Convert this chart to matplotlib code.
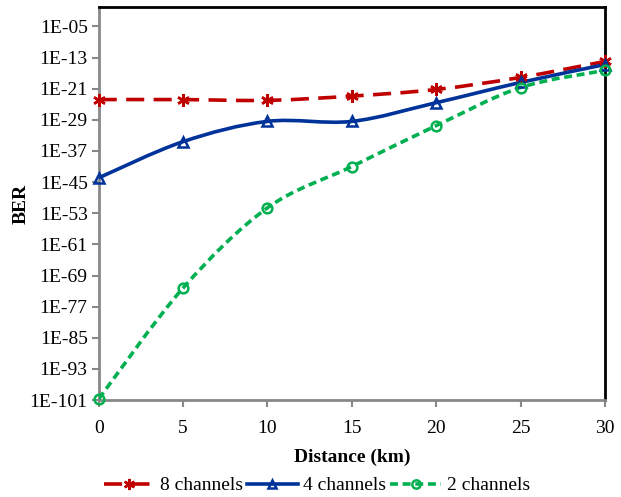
import numpy as np
import matplotlib
matplotlib.use("Agg")
import matplotlib.pyplot as plt
from matplotlib.path import Path
from matplotlib.patches import PathPatch
from matplotlib.lines import Line2D
from matplotlib.ticker import FixedLocator, FuncFormatter

plt.rcParams['font.family'] = ['Liberation Serif', 'DejaVu Serif']

distance = [0, 5, 10, 15, 20, 25, 30]
# BER exponents (BER = 10**exp)
ber8_exp = [-23.8, -23.8, -24.0, -22.9, -21.2, -18.1, -14.0]
ber4_exp = [-43.9, -34.6, -29.4, -29.4, -24.6, -19.4, -14.8]
ber2_exp = [-100.7, -72.2, -51.6, -41.0, -30.5, -20.7, -16.3]
labels = ["8 channels", "4 channels", "2 channels"]
yticks_exp = list(range(-101, 0, 8))


def smooth_path(xs, ys, t=0.5):
    # Excel-like smoothed line: Catmull-Rom spline as cubic Bezier segments (log space)
    xs = np.asarray(xs, float)
    ys = np.asarray(ys, float)
    n = len(xs)
    verts = [(xs[0], ys[0])]
    codes = [Path.MOVETO]
    for i in range(n - 1):
        p0 = i - 1 if i > 0 else i
        p3 = i + 2 if i + 2 < n else i + 1
        c1 = (xs[i] + (xs[i + 1] - xs[p0]) * t / 3, ys[i] + (ys[i + 1] - ys[p0]) * t / 3)
        c2 = (xs[i + 1] - (xs[p3] - xs[i]) * t / 3, ys[i + 1] - (ys[p3] - ys[i]) * t / 3)
        verts += [c1, c2, (xs[i + 1], ys[i + 1])]
        codes += [Path.CURVE4] * 3
    verts = [(vx, 10.0 ** vy) for vx, vy in verts]
    return Path(verts, codes)


fig = plt.figure(figsize=(6.21, 4.97), dpi=100)
ax = fig.add_axes([0.159, 0.195, 0.815, 0.791])
ax.set_yscale('log')

series = [
    (ber8_exp, '#C00000', (0, (5, 2.6)), (6, 2, 0), 9),
    (ber4_exp, '#003399', '-', '^', 7),
    (ber2_exp, '#00B050', (0, (2.2, 1.3)), 'o', 7),
]
handles = []
for (exps, col, ls, mk, ms), lab in zip(series, labels):
    patch = PathPatch(smooth_path(distance, exps), facecolor='none', edgecolor=col,
                      lw=2.6, linestyle=ls, zorder=3)
    ax.add_patch(patch)
    ax.plot(distance, [10.0 ** e for e in exps], linestyle='none', marker=mk, ms=ms,
            mec=col, mfc='none', mew=1.8, zorder=4, clip_on=False)
    handles.append(Line2D([], [], color=col, lw=2.6, linestyle=ls, marker=mk, ms=ms - 1,
                          mec=col, mfc='none', mew=1.8))

ax.set_xlim(0, 30)
ax.set_ylim(10.0 ** -101, 1.0)
ax.set_xticks(distance)
ax.yaxis.set_major_locator(FixedLocator([10.0 ** e for e in yticks_exp]))
ax.yaxis.set_minor_locator(FixedLocator([]))
ax.yaxis.set_major_formatter(FuncFormatter(
    lambda v, p: "1E-%02d" % round(-np.log10(v))))

for s in ['left', 'bottom']:
    ax.spines[s].set_color('#888888')
    ax.spines[s].set_linewidth(2)
for s in ['top', 'right']:
    ax.spines[s].set_color('black')
    ax.spines[s].set_linewidth(2)
ax.tick_params(axis='both', direction='out', color='#888888', width=1.5, length=5,
               labelsize=14, pad=3)
ax.tick_params(axis='x', pad=9)

ax.set_xlabel("Distance (km)", fontsize=14, fontweight='bold', labelpad=9)
ax.set_ylabel("BER", fontsize=14, fontweight='bold')
ax.yaxis.set_label_coords(-0.136, 0.5)

fig.legend(handles, labels, loc='lower center', bbox_to_anchor=(0.51, -0.03), ncol=3,
           frameon=False, fontsize=14, handlelength=2.6, columnspacing=0.2,
           handletextpad=0.3)

fig.savefig("out.png", dpi=100)
